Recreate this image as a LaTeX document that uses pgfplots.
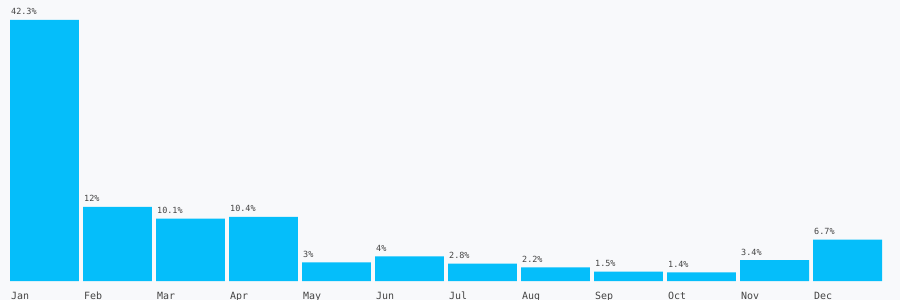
\documentclass[border=0pt]{standalone}
\usepackage{pgfplots}
\pgfplotsset{compat=1.18}
\usepackage{fontspec}
\setmonofont{DejaVu Sans Mono}
\usetikzlibrary{backgrounds}
\definecolor{bg}{HTML}{F8F9FB}
\definecolor{barc}{HTML}{05BEFA}
\definecolor{txt}{HTML}{444444}
\begin{document}
\begin{tikzpicture}
\begin{axis}[
  scale only axis,
  width=900bp, height=281bp,
  xmin=-0.6096, xmax=11.7192,
  ymin=0, ymax=45.54,
  axis line style={draw=none},
  tick style={draw=none},
  ytick=\empty,
  xtick={0,...,11},
  xticklabels={Jan,Feb,Mar,Apr,May,Jun,Jul,Aug,Sep,Oct,Nov,Dec},
  x tick label style={anchor=base west, inner sep=0pt, xshift=-33.5bp, yshift=-14bp, font=\ttfamily\fontsize{10}{12}\selectfont, text=txt},
  ybar, bar width=0.945,
  point meta=explicit symbolic,
  nodes near coords,
  every node near coord/.append style={anchor=base west, inner sep=0pt, xshift=-33.5bp, yshift=5bp, font=\ttfamily\fontsize{8.5}{10}\selectfont, text=txt},
]
\addplot[fill=barc, draw=none] coordinates {
 (0,42.3) [42.3\%]
 (1,12) [12\%]
 (2,10.1) [10.1\%]
 (3,10.4) [10.4\%]
 (4,3) [3\%]
 (5,4) [4\%]
 (6,2.8) [2.8\%]
 (7,2.2) [2.2\%]
 (8,1.5) [1.5\%]
 (9,1.4) [1.4\%]
 (10,3.4) [3.4\%]
 (11,6.7) [6.7\%]
};
\end{axis}
\pgfresetboundingbox
\path (current axis.north west) rectangle ([yshift=-19bp]current axis.south east);
\begin{scope}[on background layer]
\fill[bg] (current axis.north west) rectangle ([yshift=-19bp]current axis.south east);
\end{scope}
\end{tikzpicture}
\end{document}
